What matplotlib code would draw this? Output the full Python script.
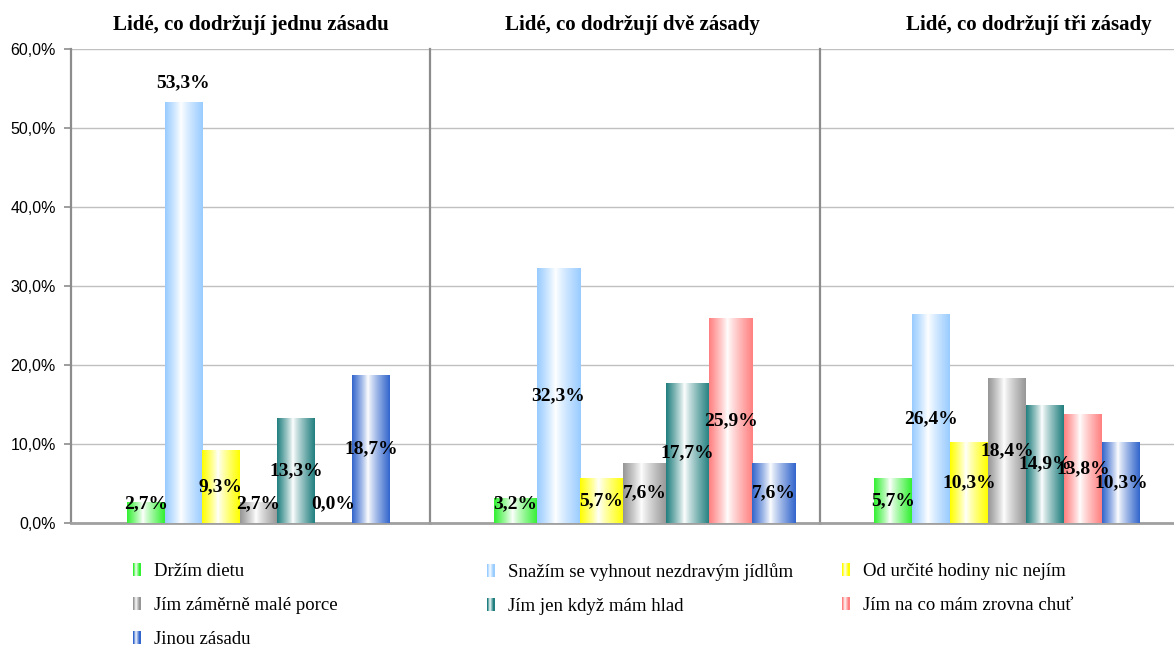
import matplotlib
matplotlib.use("Agg")
import matplotlib.pyplot as plt
import numpy as np
from matplotlib.patches import Rectangle
from matplotlib.colors import to_rgb
from matplotlib.legend_handler import HandlerBase
from matplotlib.ticker import FuncFormatter
from matplotlib.font_manager import FontProperties

# ---------------- data ----------------
categories = [
    "Držím dietu",
    "Snažím se vyhnout nezdravým jídlům",
    "Od určité hodiny nic nejím",
    "Jím záměrně malé porce",
    "Jím jen když mám hlad",
    "Jím na co mám zrovna chuť",
    "Jinou zásadu",
]
group_titles = [
    "Lidé, co dodržují jednu zásadu",
    "Lidé, co dodržují dvě zásady",
    "Lidé, co dodržují tři zásady",
]
values_one = [2.7, 53.3, 9.3, 2.7, 13.3, 0.0, 18.7]
values_two = [3.2, 32.3, 5.7, 7.6, 17.7, 25.9, 7.6]
values_three = [5.7, 26.4, 10.3, 18.4, 14.9, 13.8, 10.3]
y_ticks = [0, 10, 20, 30, 40, 50, 60]

colors = ["#33F033", "#99CCFF", "#FFFF00", "#969696", "#227F7F", "#FF8080", "#3366CC"]

# ---------------- figure ----------------
W, H = 1174, 650
fig = plt.figure(figsize=(W / 100, H / 100), dpi=100)


def add_px_axes(left, right, top=49, bottom=523):
    return fig.add_axes([left / W, 1 - bottom / H, (right - left) / W, (bottom - top) / H])


def gradient(color, n=96, c=0.42):
    t = np.linspace(0, 1, n)
    w = np.where(t < c, (c - t) / c, (t - c) / (1 - c))
    w = np.clip(w, 0, 1) ** 0.85
    rgb = np.array(to_rgb(color))
    img = 1 - (1 - rgb)[None, :] * w[:, None]
    return img[None, :, :]


def pct(v):
    return f"{v:.1f}%".replace(".", ",")


axes_layout = [  # pixel left, pixel right, xlim
    (71, 430, (-1.99, 7.565)),
    (430, 820, (-1.988, 7.08)),
    (820, 1238, (-1.92, 9.08)),
]
title_x = [0.5, 0.52, 0.5]
groups = [values_one, values_two, values_three]

serif_bold = dict(family="Liberation Serif", weight="bold")
axes = []
for gi, (vals, (l, r, xl)) in enumerate(zip(groups, axes_layout)):
    ax = add_px_axes(l, r)
    axes.append(ax)
    ax.set_axisbelow(True)
    x = np.arange(len(vals))
    bars = ax.bar(x, vals, width=1.0, color=colors, linewidth=0, zorder=2)
    for xi, v, col, b in zip(x, vals, colors, bars):
        if v > 0:
            im = ax.imshow(gradient(col), extent=(xi - 0.5, xi + 0.5, 0, v),
                           aspect="auto", interpolation="bilinear", zorder=3)
            im.set_clip_path(b)
        if v > 50:
            ax.annotate(pct(v), (xi, v), xytext=(0, 8), textcoords="offset points",
                        ha="center", va="bottom", fontsize=14, zorder=5, **serif_bold)
        else:
            ax.text(xi, max(v / 2, 2.4), pct(v), ha="center", va="center",
                    fontsize=14, zorder=5, **serif_bold)
    ax.set_xlim(*xl)
    ax.set_ylim(0, 60)
    ax.set_yticks(y_ticks)
    ax.yaxis.grid(True, color="#C0C0C0", linewidth=1.0)
    ax.set_xticks([])
    for s in ("top", "right"):
        ax.spines[s].set_visible(False)
    ax.spines["bottom"].set_color("#A0A0A0")
    ax.spines["bottom"].set_linewidth(2)
    ax.spines["left"].set_color("#8C8C8C")
    ax.spines["left"].set_linewidth(1.6)
    ax.set_title(group_titles[gi], fontsize=15, pad=14, x=title_x[gi], **serif_bold)
    if gi == 0:
        ax.yaxis.set_major_formatter(FuncFormatter(lambda v, p: pct(v)))
        ax.tick_params(axis="y", length=5, color="#8C8C8C", width=1.2, pad=6,
                       labelsize=11.5)
        for lbl in ax.get_yticklabels():
            lbl.set_fontfamily("Liberation Sans")
    else:
        ax.tick_params(axis="y", left=False, labelleft=False)
    ax.patch.set_alpha(0)


# ---------------- legend ----------------
class GradHandler(HandlerBase):
    def create_artists(self, legend, orig_handle, xdescent, ydescent,
                       width, height, fontsize, trans):
        col = orig_handle.get_facecolor()
        img = gradient(col, n=7)[0]
        arts = []
        n = img.shape[0]
        for i in range(n):
            arts.append(Rectangle((-xdescent + i * width / n, -ydescent), width / n, height,
                                  facecolor=img[i], linewidth=0, transform=trans))
        return arts


proxies = [Rectangle((0, 0), 1, 1, facecolor=c) for c in colors]
columns = [[0, 3, 6], [1, 4], [2, 5]]
col_x = [133, 487, 842]
legend_font = FontProperties(family="Liberation Serif", size=13.5)
for idxs, cx in zip(columns, col_x):
    leg = fig.legend([proxies[i] for i in idxs], [categories[i] for i in idxs],
                     loc="upper left", bbox_to_anchor=(cx / W, 1 - 563 / H),
                     frameon=False, borderpad=0, borderaxespad=0, labelspacing=0.9,
                     handlelength=0.4, handleheight=0.7, handletextpad=0.7,
                     prop=legend_font, handler_map={Rectangle: GradHandler()})

fig.savefig("out.png", dpi=100)
